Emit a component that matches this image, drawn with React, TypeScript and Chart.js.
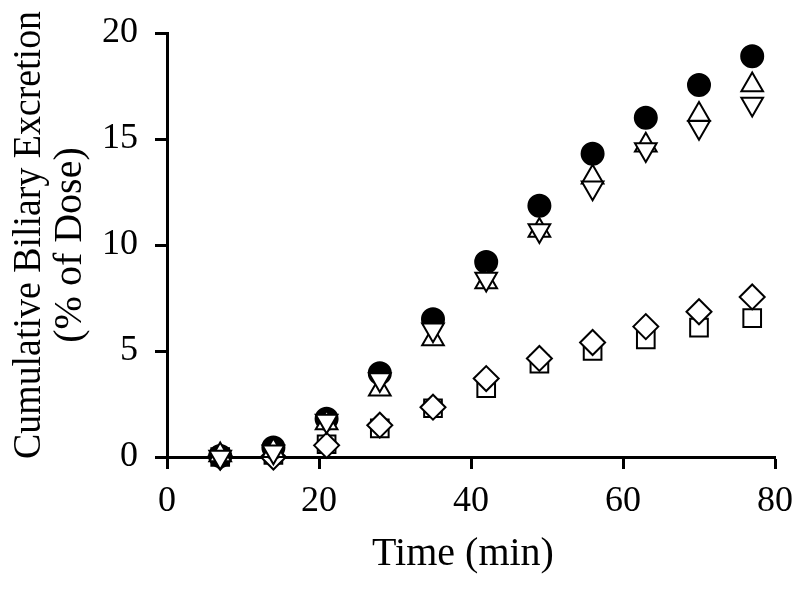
import React, { useEffect, useRef } from "react";
import { Chart, registerables } from "chart.js";

Chart.register(...registerables);

const times = [7, 14, 21, 28, 35, 42, 49, 56, 63, 70, 77];
const filledCircle = [0.05, 0.45, 1.8, 3.95, 6.5, 9.2, 11.85, 14.3, 16.0, 17.55, 18.9];
const upTriangle = [0.1, 0.3, 1.6, 3.2, 5.57, 8.25, 10.68, 13.2, 14.7, 16.15, 17.55];
const downTriangle = [0.0, 0.25, 1.7, 3.65, 6.0, 8.4, 10.68, 12.7, 14.5, 15.55, 16.65];
const diamond = [0.0, 0.0, 0.55, 1.5, 2.35, 3.7, 4.65, 5.4, 6.15, 6.85, 7.55];
const square = [0.0, 0.1, 0.6, 1.35, 2.3, 3.25, 4.4, 5.0, 5.55, 6.1, 6.55];

const xTitle = "Time (min)";
const yTitleLines = ["Cumulative Biliary Excretion", "(% of Dose)"];

const FONT = '"Liberation Serif", "Times New Roman", serif';

function pts(vals: number[]) {
  return times.map((t, i) => ({ x: t, y: vals[i] }));
}

const titlePlugin = {
  id: "axisTitles",
  afterDraw(chart: any) {
    const ctx = chart.ctx as CanvasRenderingContext2D;
    ctx.save();
    ctx.fillStyle = "#000";
    ctx.font = `40px ${FONT}`;
    ctx.textAlign = "center";
    ctx.textBaseline = "alphabetic";
    ctx.fillText(xTitle, 463, 565);
    ctx.save();
    ctx.translate(40, 235);
    ctx.rotate(-Math.PI / 2);
    ctx.fillText(yTitleLines[0], 0, 0, 448);
    ctx.restore();
    ctx.save();
    ctx.translate(81, 245);
    ctx.rotate(-Math.PI / 2);
    ctx.fillText(yTitleLines[1], 0, 0);
    ctx.restore();
    ctx.restore();
  },
};

export default function App() {
  const ref = useRef<HTMLCanvasElement | null>(null);
  useEffect(() => {
    if (!ref.current) return;
    const common = {
      borderColor: "#000",
      borderWidth: 2,
      showLine: false,
      clip: false as any,
    };
    const chart = new Chart(ref.current, {
      type: "scatter",
      data: {
        datasets: [
          { ...common, label: "down", data: pts(downTriangle), pointStyle: "triangle", pointRotation: 180, pointRadius: 12.5, backgroundColor: "#fff" },
          { ...common, label: "up", data: pts(upTriangle), pointStyle: "triangle", pointRadius: 12.5, backgroundColor: "#fff" },
          { ...common, label: "circle", data: pts(filledCircle), pointStyle: "circle", pointRadius: 11, backgroundColor: "#000" },
          { ...common, label: "diamond", data: pts(diamond), pointStyle: "rectRot", pointRadius: 12.5, backgroundColor: "#fff" },
          { ...common, label: "square", data: pts(square), pointStyle: "rect", pointRadius: 12.5, backgroundColor: "#fff" },
        ] as any,
      },
      options: {
        animation: false,
        responsive: false,
        layout: { padding: { left: 0, right: 25, top: 33, bottom: 0 } },
        plugins: { legend: { display: false }, tooltip: { enabled: false } },
        scales: {
          x: {
            type: "linear",
            min: 0,
            max: 80,
            afterFit: (s: any) => { s.height = 137; s.paddingLeft = 0; s.paddingRight = 0; },
            ticks: { stepSize: 20, color: "#000", padding: 11, font: { family: FONT, size: 36 } },
            grid: { display: true, drawOnChartArea: false, drawTicks: true, tickLength: 12, tickWidth: 3, tickColor: "#000" },
            border: { display: true, color: "#000", width: 3 },
          },
          y: {
            type: "linear",
            min: 0,
            max: 20,
            afterFit: (s: any) => { s.width = 167; s.paddingTop = 0; s.paddingBottom = 0; },
            ticks: { stepSize: 5, color: "#000", padding: 17, font: { family: FONT, size: 36 } },
            grid: { display: true, drawOnChartArea: false, drawTicks: true, tickLength: 12, tickWidth: 3, tickColor: "#000" },
            border: { display: true, color: "#000", width: 3 },
          },
        },
      } as any,
      plugins: [titlePlugin],
    });
    return () => chart.destroy();
  }, []);
  return (
    <div style={{ position: "fixed", left: 0, top: 0, width: 800, height: 594, background: "#fff" }}>
      <canvas ref={ref} width={800} height={594} style={{ width: 800, height: 594, display: "block" }} />
    </div>
  );
}
